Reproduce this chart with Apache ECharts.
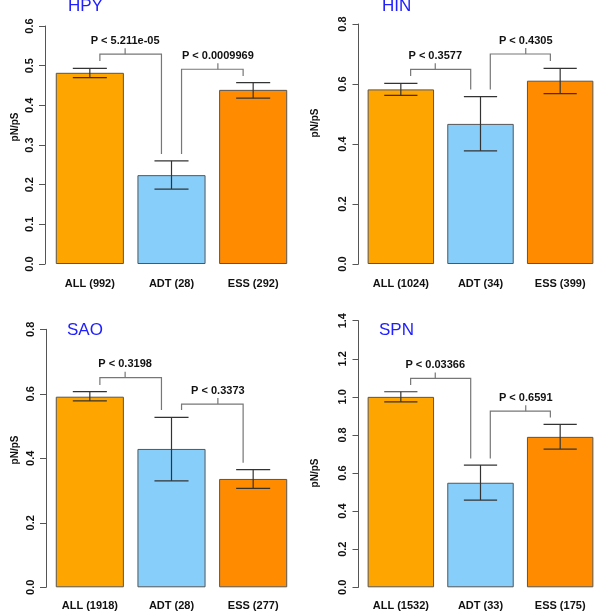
<!DOCTYPE html>
<html>
<head>
<meta charset="utf-8">
<script src="https://cdn.jsdelivr.net/npm/echarts@6/dist/echarts.min.js"></script>
<style>html,body{margin:0;padding:0;background:#fff;}#c{width:600px;height:613px;}</style>
</head>
<body>
<div id="c"></div>
<script>
// ---- data ----
const panelNames = ['HPY', 'HIN', 'SAO', 'SPN'];

const hpyCategories = ['ALL (992)', 'ADT (28)', 'ESS (292)'];
const hpyValues = [0.482, 0.224, 0.439];
const hpyErrLow = [0.470, 0.189, 0.418];
const hpyErrHigh = [0.493, 0.260, 0.457];
const hpyBrackets = [[0, 1, 0.512, 0.529, 0.277], [1, 2, 0.277, 0.491, 0.474]];
const hpyPLabels = ['P < 5.211e-05', 'P < 0.0009969'];
const hpyTicks = [0, 0.6, 0.1];

const hinCategories = ['ALL (1024)', 'ADT (34)', 'ESS (399)'];
const hinValues = [0.582, 0.467, 0.611];
const hinErrLow = [0.562, 0.377, 0.568];
const hinErrHigh = [0.602, 0.558, 0.652];
const hinBrackets = [[0, 1, 0.627, 0.649, 0.582], [1, 2, 0.582, 0.700, 0.677]];
const hinPLabels = ['P < 0.3577', 'P < 0.4305'];
const hinTicks = [0, 0.8, 0.2];

const saoCategories = ['ALL (1918)', 'ADT (28)', 'ESS (277)'];
const saoValues = [0.591, 0.429, 0.336];
const saoErrLow = [0.578, 0.330, 0.307];
const saoErrHigh = [0.607, 0.527, 0.365];
const saoBrackets = [[0, 1, 0.627, 0.650, 0.550], [1, 2, 0.550, 0.568, 0.386]];
const saoPLabels = ['P < 0.3198', 'P < 0.3373'];
const saoTicks = [0, 0.8, 0.2];

const spnCategories = ['ALL (1532)', 'ADT (33)', 'ESS (175)'];
const spnValues = [1.000, 0.549, 0.790];
const spnErrLow = [0.974, 0.458, 0.726];
const spnErrHigh = [1.027, 0.642, 0.856];
const spnBrackets = [[0, 1, 1.062, 1.097, 0.677], [1, 2, 0.677, 0.925, 0.892]];
const spnPLabels = ['P < 0.03366', 'P < 0.6591'];
const spnTicks = [0, 1.4, 0.2];

// ---- styles / layout ----
const FONT = '"Liberation Sans", Arial, Helvetica, sans-serif';
const BAR_COLORS = ['#FFA500', '#87CEFA', '#FF8C00'];
const TICK_FRAC = [0.41, 0.59];   // where the bracket's centre tick sits between its legs
const layout = [
  { grid: { left: 49, top: 26, width: 245, height: 238 }, axisOffset: 4, title: [68, -2], ylab: [15, 127], labelMargin: 14 },
  { grid: { left: 361, top: 24, width: 244, height: 240 }, axisOffset: 2.5, title: [382, -2], ylab: [315, 123], labelMargin: 14 },
  { grid: { left: 49, top: 329.3, width: 245, height: 258 }, axisOffset: 3, title: [67, 322], ylab: [15, 450], labelMargin: 13 },
  { grid: { left: 361, top: 320.7, width: 244, height: 266.6 }, axisOffset: 2.5, title: [379, 322], ylab: [315, 473], labelMargin: 13 }
];

const panels = [
  [hpyCategories, hpyValues, hpyErrLow, hpyErrHigh, hpyBrackets, hpyPLabels, hpyTicks],
  [hinCategories, hinValues, hinErrLow, hinErrHigh, hinBrackets, hinPLabels, hinTicks],
  [saoCategories, saoValues, saoErrLow, saoErrHigh, saoBrackets, saoPLabels, saoTicks],
  [spnCategories, spnValues, spnErrLow, spnErrHigh, spnBrackets, spnPLabels, spnTicks]
];

const grid = [], xAxis = [], yAxis = [], series = [], title = [], graphic = [];

panels.forEach((p, i) => {
  const [cats, vals, lo, hi, brackets, plabels, ticks] = p;
  const L = layout[i];
  grid.push(L.grid);
  xAxis.push({
    type: 'category', gridIndex: i, data: cats,
    axisLine: { show: false }, axisTick: { show: false },
    axisLabel: { color: '#111', fontSize: 11, fontWeight: 'bold', fontFamily: FONT, margin: L.labelMargin, interval: 0 }
  });
  yAxis.push({
    type: 'value', gridIndex: i, min: ticks[0], max: ticks[1], interval: ticks[2],
    offset: L.axisOffset,
    splitLine: { show: false },
    axisLine: { show: true, lineStyle: { color: '#555', width: 1 } },
    axisTick: { show: true, length: 6, lineStyle: { color: '#555' } },
    axisLabel: {
      color: '#111', fontSize: 11, fontWeight: 'bold', fontFamily: FONT, rotate: 90, margin: 10,
      formatter: v => v.toFixed(1)
    }
  });
  title.push({
    text: panelNames[i], left: L.title[0], top: L.title[1], padding: 0,
    textStyle: { color: '#2020ff', fontSize: 17, fontWeight: 'normal', fontFamily: FONT }
  });
  graphic.push({
    type: 'text', x: L.ylab[0], y: L.ylab[1], rotation: Math.PI / 2,
    style: { text: 'pN/pS', fill: '#111', font: 'bold 10px ' + FONT, textAlign: 'center', textVerticalAlign: 'middle' }
  });
  // bars
  series.push({
    type: 'bar', xAxisIndex: i, yAxisIndex: i, barWidth: '83.4%', z: 2,
    data: vals.map((v, k) => ({ value: v, itemStyle: { color: BAR_COLORS[k] } })),
    itemStyle: { borderColor: '#555', borderWidth: 1 },
    silent: true, animation: false
  });
  // error bars
  series.push({
    type: 'custom', xAxisIndex: i, yAxisIndex: i, animation: false, silent: true, clip: false, z: 5,
    data: vals.map((v, k) => [k, lo[k], hi[k]]),
    encode: { x: 0, y: [1, 2] },
    renderItem: (params, api) => {
      const x = api.value(0);
      const pLo = api.coord([x, api.value(1)]);
      const pHi = api.coord([x, api.value(2)]);
      const half = api.size([1, 0])[0] * 0.834 * 0.25;
      const st = { stroke: '#333', lineWidth: 1.2 };
      return {
        type: 'group', children: [
          { type: 'line', shape: { x1: pLo[0], y1: pLo[1], x2: pHi[0], y2: pHi[1] }, style: st },
          { type: 'line', shape: { x1: pLo[0] - half, y1: pLo[1], x2: pLo[0] + half, y2: pLo[1] }, style: st },
          { type: 'line', shape: { x1: pHi[0] - half, y1: pHi[1], x2: pHi[0] + half, y2: pHi[1] }, style: st }
        ]
      };
    }
  });
  // significance brackets
  series.push({
    type: 'custom', xAxisIndex: i, yAxisIndex: i, animation: false, silent: true, clip: false, z: 5,
    data: brackets.map(b => b.slice()),
    encode: { x: [0, 1], y: [2, 3, 4] },
    renderItem: (params, api) => {
      const a = api.value(0), b = api.value(1);
      const band = api.size([1, 0])[0];
      const off = band * 0.123;
      const pL = api.coord([a, api.value(2)]);
      const pT = api.coord([a, api.value(3)]);
      const pR = api.coord([b, api.value(4)]);
      const xL = pL[0] + off, xR = pR[0] - off, yT = pT[1];
      const xc = xL + (xR - xL) * TICK_FRAC[params.dataIndex];
      const st = { stroke: '#777', lineWidth: 1.2, fill: null };
      return {
        type: 'group', children: [
          { type: 'polyline', shape: { points: [[xL, pL[1]], [xL, yT], [xR, yT], [xR, pR[1]]] }, style: st },
          { type: 'line', shape: { x1: xc, y1: yT, x2: xc, y2: yT - 6 }, style: st },
          { type: 'text', x: xc, y: yT - 13.5,
            style: { text: plabels[params.dataIndex], fill: '#111', font: 'bold 11px ' + FONT, textAlign: 'center', textVerticalAlign: 'middle' } }
        ]
      };
    }
  });
});

const chart = echarts.init(document.getElementById('c'), null, { renderer: 'canvas' });
chart.setOption({
  backgroundColor: '#fff',
  animation: false,
  title, grid, xAxis, yAxis, series, graphic
});
</script>
</body>
</html>
